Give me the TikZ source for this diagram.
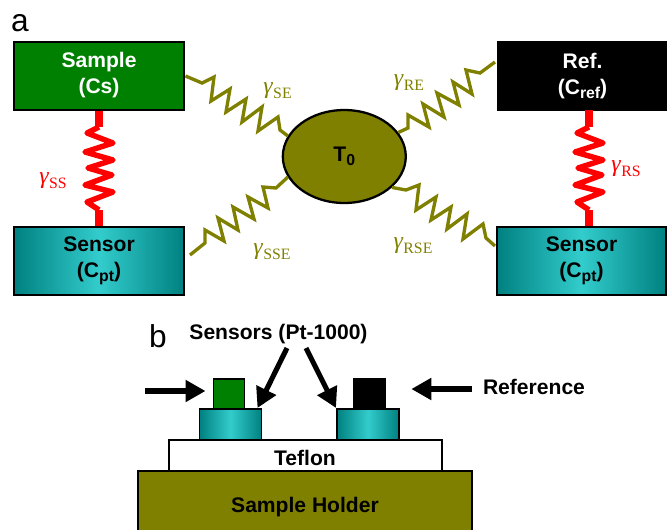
\documentclass[tikz,border=0pt]{standalone}
\usepackage{fontspec}
\setmainfont{Liberation Sans}
\newfontfamily\serifgam{Liberation Serif}
\usepackage{xcolor}
\usepackage{tikz}
\usetikzlibrary{arrows.meta,shapes.geometric}
\definecolor{samplegreen}{HTML}{008000}
\definecolor{holderolive}{HTML}{808000}
\definecolor{sensoredge}{HTML}{008080}
\definecolor{sensormid}{HTML}{33CCCC}
\definecolor{springred}{HTML}{FF0000}
\newcommand{\gammalab}[1]{{\normalfont\serifgam\fontsize{13.5}{15}\selectfont\textit{γ}\raisebox{-2.5pt}{\fontsize{9}{10}\selectfont #1}}}
\newcommand{\lowsub}[1]{\raisebox{-2.5pt}{\fontsize{9}{10}\selectfont #1}}
\begin{document}
\begin{tikzpicture}[x=0.02cm,y=0.02cm]
\tikzstyle{every node}+=[inner sep=0pt,font=\bfseries\fontsize{12}{14.7}\selectfont,align=center]
\tikzstyle{bigbox}=[draw=black,line width=1.13pt,minimum width=3.42cm,minimum height=1.37cm]
\tikzstyle{sensorbox}=[bigbox,left color=sensoredge,right color=sensoredge,middle color=sensormid]
\tikzstyle{smallsensor}=[sensorbox,minimum width=1.24cm,minimum height=0.62cm]
\tikzstyle{olivespring}=[holderolive,line width=1.9pt,line join=miter]
\tikzstyle{redspring}=[springred,line width=3.1pt,line join=round]
\tikzstyle{redlead}=[springred,line width=4pt]
\tikzstyle{bigarrow}=[black,line width=2.9pt,-{Triangle[length=0.4cm,width=0.42cm]}]
\tikzstyle{panellab}=[font=\fontsize{18}{20}\selectfont]
\clip (0,0) rectangle (667,-529);
\useasboundingbox (0,0) rectangle (667,-529);
\node (labela) [panellab] at (20,-23) {a};
\node (labelb) [panellab] at (158,-336) {b};
\node (sample) [bigbox,fill=samplegreen,text=white] at (99,-76) {};
\node (sampletxt) [text=white] at (99,-75) {Sample\\(Cs)};
\node (sensl) [sensorbox] at (99,-261) {Sensor\\(C\lowsub{pt})};
\node (ref) [bigbox,fill=black,draw=black,text=white,minimum width=3.38cm] at (582.5,-76) {Ref.\\(C\lowsub{ref})};
\node (sensr) [sensorbox,minimum width=3.4cm] at (581.5,-261) {Sensor\\(C\lowsub{pt})};
\node (bath) [draw=black,line width=1.3pt,fill=holderolive,ellipse,minimum width=2.46cm,minimum height=1.86cm] at (344.3,-156.5) {T\lowsub{0}};
\coordinate (sseend) at (190,-255);
\coordinate (reend) at (495,-62);
\coordinate (rseend) at (495,-246);
\coordinate (rstop) at (589,-110);
\coordinate (rsbot) at (589,-226);
\draw [redlead] (sample.south) -- (99,-127);
\draw [redlead] (99,-210) -- (sensl.north);
\draw [redspring] (99,-127) -- (87,-133) -- (113,-143) -- (85,-152) -- (113,-160) -- (88,-168) -- (112,-175) -- (85,-185) -- (113,-192) -- (87,-202) -- (99,-210);
\draw [redlead] (rstop) -- (589,-127);
\draw [redlead] (589,-210) -- (rsbot);
\draw [redspring] (589,-127) -- (577,-133) -- (603,-143) -- (575,-152) -- (603,-160) -- (578,-168) -- (602,-175) -- (575,-185) -- (603,-192) -- (577,-202) -- (589,-210);
\draw [olivespring] (sample.east) -- (202,-83) -- (214,-77) -- (211,-101) -- (230,-89) -- (226,-112) -- (246,-99) -- (242,-122) -- (262,-107) -- (258,-131) -- (278,-117) -- (280,-130) -- (bath.160);
\draw [olivespring] (sseend) -- (205,-243) -- (205,-230) -- (224,-241) -- (218,-218) -- (238,-230) -- (233,-207) -- (254,-219) -- (248,-197) -- (268,-208) -- (263,-187) -- (276,-188) -- (bath.200);
\draw [olivespring] (bath.24) -- (408,-128) -- (408,-115) -- (429,-127) -- (423,-104) -- (444,-117) -- (437,-93) -- (459,-105) -- (453,-82) -- (472,-94) -- (466,-70) -- (480,-73) -- (reend);
\draw [olivespring] (bath.-33) -- (406,-190) -- (419,-185) -- (416,-210) -- (436,-197) -- (431,-220) -- (451,-207) -- (447,-229) -- (467,-214) -- (463,-239) -- (483,-224) -- (486,-238) -- (rseend);
\node (gss) [springred] at (53,-181) {\gammalab{SS}};
\node (grs) [springred] at (626,-169) {\gammalab{RS}};
\node (gse) [holderolive] at (277.5,-91) {\gammalab{SE}};
\node (gsse) [holderolive] at (272,-252) {\gammalab{SSE}};
\node (gre) [holderolive] at (409,-83) {\gammalab{RE}};
\node (grse) [holderolive] at (413,-246) {\gammalab{RSE}};
\node (holder) [draw=black,line width=1.13pt,fill=holderolive,minimum width=6.7cm,minimum height=1.4cm] at (305,-506) {};
\node (holdertxt) at (305,-507.5) {Sample Holder};
\node (teflon) [draw=black,line width=1.13pt,fill=white,minimum width=5.46cm,minimum height=0.62cm] at (305.5,-455.5) {};
\node (teflontxt) at (305,-458) {Teflon};
\node (senssl) [smallsensor] at (230.5,-424.5) {};
\node (senssr) [smallsensor] at (368,-424.5) {};
\node (gbox) [draw=black,line width=1.13pt,fill=samplegreen,minimum width=0.62cm,minimum height=0.6cm] at (229,-394) {};
\node (kbox) [fill=black,minimum width=0.66cm,minimum height=0.62cm] at (369.5,-393.5) {};
\node (senslab) at (278.5,-334.5) {Sensors (Pt-1000)};
\node (reflab) at (534,-387) {Reference};
\coordinate (inl) at (145,-391);
\coordinate (inr) at (472,-389);
\coordinate (sensa) at (287,-348);
\coordinate (sensb) at (306,-348);
\draw [bigarrow,shorten >=0.14cm] (inl) -- (gbox.west |- inl);
\draw [bigarrow,shorten >=0.5cm] (inr) -- (kbox.east |- inr);
\draw [bigarrow] (sensa) -- ([xshift=-0.1cm]senssl.north east);
\draw [bigarrow] (sensb) -- (senssr.north west);
\end{tikzpicture}
\end{document}
